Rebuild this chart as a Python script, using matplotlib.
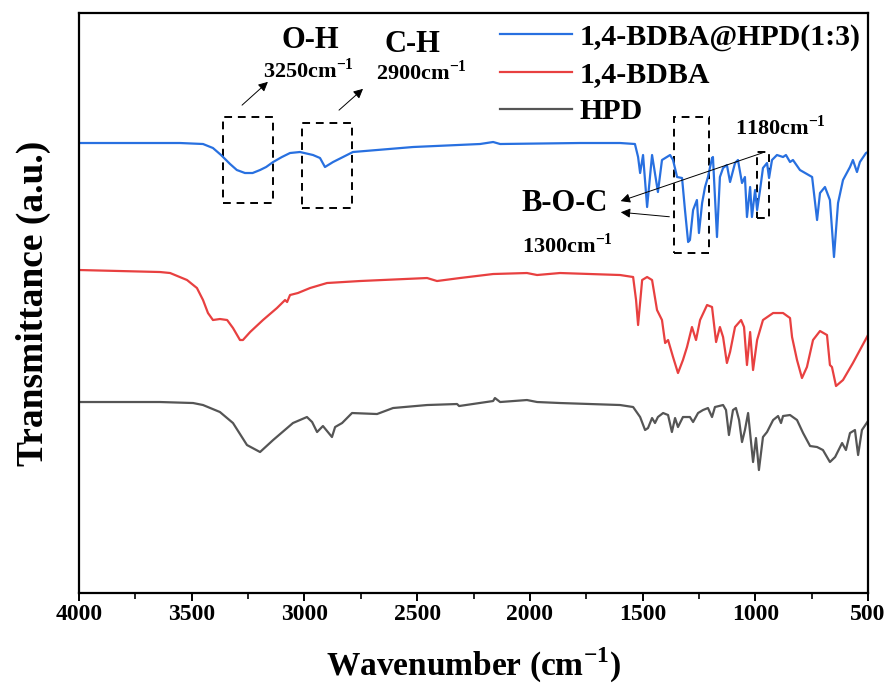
import matplotlib
matplotlib.use("Agg")
import matplotlib.pyplot as plt
from matplotlib.patches import Rectangle
from matplotlib.ticker import MultipleLocator

plt.rcParams["font.family"] = ["Liberation Serif", "DejaVu Serif"]
plt.rcParams["font.weight"] = "bold"
plt.rcParams["mathtext.fontset"] = "custom"
plt.rcParams["mathtext.rm"] = "Liberation Serif:bold"
plt.rcParams["mathtext.bf"] = "Liberation Serif:bold"

# FTIR spectra (wavenumber in cm-1, transmittance in a.u.)
hpd_mix_wn = [4000, 3552, 3450, 3406, 3370, 3330, 3300, 3264, 3230, 3197, 3170, 3139,
              3100, 3064, 3020, 2962, 2931, 2909, 2873, 2829, 2785, 2518, 2221, 2163,
              2132, 1778, 1600, 1534, 1520, 1511, 1498, 1480, 1458, 1432, 1414, 1378,
              1365, 1347, 1325, 1312, 1298, 1290, 1276, 1259, 1250, 1236, 1223, 1210,
              1192, 1188, 1170, 1157, 1143, 1126, 1112, 1090, 1077, 1059, 1046, 1037,
              1023, 1015, 1001, 992, 979, 966, 948, 939, 926, 904, 877, 864, 846, 833,
              802, 748, 726, 713, 691, 669, 651, 633, 611, 580, 567, 549, 536, 509, 500]
hpd_mix_t = [45.0, 45.0, 44.9, 44.5, 43.8, 42.9, 42.3, 42.0, 42.0, 42.3, 42.6, 43.1,
             43.6, 44.0, 44.1, 43.8, 43.5, 42.6, 43.1, 43.6, 44.1, 44.6, 44.9, 45.1,
             44.9, 45.0, 45.0, 44.9, 43.6, 42.0, 43.8, 38.6, 43.8, 40.1, 43.3, 43.8,
             43.3, 41.6, 41.5, 38.3, 35.1, 35.3, 38.3, 39.3, 36.0, 39.0, 40.6, 41.6,
             43.5, 43.6, 35.6, 41.6, 42.5, 42.8, 41.1, 43.0, 43.3, 41.0, 41.6, 37.6,
             40.6, 37.6, 40.3, 38.3, 40.3, 42.5, 43.0, 41.5, 43.3, 43.8, 43.6, 43.8,
             43.1, 43.3, 42.3, 41.6, 37.3, 40.0, 40.6, 39.3, 33.6, 39.0, 41.3, 42.6,
             43.3, 42.1, 43.1, 44.0, 44.1]

bdba_wn = [4000, 3641, 3596, 3521, 3477, 3450, 3428, 3406, 3375, 3343, 3317, 3286,
           3273, 3241, 3184, 3122, 3086, 3077, 3064, 3029, 2975, 2900, 2753, 2456,
           2412, 2310, 2163, 2013, 1968, 1866, 1600, 1542, 1529, 1520, 1502, 1480,
           1458, 1436, 1414, 1400, 1387, 1365, 1343, 1321, 1303, 1281, 1263, 1245,
           1214, 1192, 1174, 1157, 1143, 1126, 1112, 1090, 1063, 1050, 1037, 1023,
           1010, 992, 966, 921, 877, 846, 837, 815, 793, 771, 744, 713, 682, 669,
           660, 642, 611, 567, 500]
bdba_t = [32.3, 32.1, 32.0, 31.3, 30.5, 29.3, 28.0, 27.3, 27.4, 27.3, 26.5, 25.3,
          25.3, 26.1, 27.3, 28.5, 29.3, 29.1, 29.8, 30.0, 30.5, 31.0, 31.2, 31.5,
          31.2, 31.5, 31.9, 32.0, 31.8, 32.0, 31.8, 31.6, 29.3, 26.8, 31.3, 31.6,
          31.3, 28.3, 27.3, 25.0, 25.3, 23.6, 22.0, 23.3, 24.6, 26.6, 25.3, 27.3,
          28.8, 28.6, 25.1, 26.6, 25.6, 23.0, 24.1, 26.6, 27.3, 26.6, 22.8, 26.1,
          22.3, 25.3, 27.3, 28.0, 28.0, 27.5, 25.6, 23.3, 21.5, 22.6, 25.3, 26.2,
          25.8, 22.8, 22.6, 20.7, 21.3, 23.0, 25.8]

hpd_wn = [4000, 3641, 3494, 3450, 3375, 3317, 3255, 3197, 3139, 3051, 2989, 2966,
          2944, 2918, 2878, 2864, 2833, 2789, 2678, 2607, 2456, 2323, 2314, 2163,
          2155, 2132, 2013, 1968, 1866, 1600, 1542, 1511, 1489, 1476, 1458, 1445,
          1432, 1409, 1387, 1370, 1356, 1343, 1321, 1290, 1276, 1254, 1232, 1210,
          1192, 1179, 1143, 1130, 1117, 1099, 1086, 1072, 1059, 1046, 1032, 1023,
          1010, 997, 984, 966, 948, 921, 899, 886, 877, 846, 815, 788, 757, 726,
          700, 669, 646, 615, 598, 580, 558, 544, 527, 500]
hpd_t = [19.1, 19.1, 19.0, 18.8, 18.1, 17.0, 14.8, 14.1, 15.3, 17.0, 17.6, 17.1,
         16.1, 16.7, 15.6, 16.6, 17.0, 18.0, 17.9, 18.5, 18.8, 18.9, 18.7, 19.2,
         19.5, 19.1, 19.3, 19.1, 19.0, 18.8, 18.6, 17.6, 16.3, 16.5, 17.5, 17.0,
         17.6, 18.0, 17.8, 16.1, 17.5, 16.6, 17.6, 17.6, 17.1, 18.0, 18.3, 18.5,
         17.6, 18.6, 18.8, 18.3, 15.8, 18.3, 18.5, 17.3, 15.1, 16.3, 18.0, 16.0,
         13.1, 15.5, 12.3, 15.6, 16.1, 17.3, 17.7, 17.0, 17.7, 17.8, 17.3, 16.0,
         14.7, 14.6, 14.3, 13.1, 13.6, 15.0, 14.3, 16.0, 16.3, 13.8, 16.3, 17.2]

labels = ["1,4-BDBA@HPD(1:3)", "1,4-BDBA", "HPD"]
colors = ["#2870e0", "#e84040", "#555555"]

# dashed boxes around the bands: (wn_left, wn_right, t_bottom, t_top)
boxes = [(3361, 3139, 39.0, 47.6),
         (3011, 2789, 38.5, 47.0),
         (1361, 1205, 34.0, 47.6),
         (992, 939, 37.5, 44.1)]


def main() -> None:
    fig = plt.figure(figsize=(8.88, 6.99), dpi=100)
    ax = fig.add_axes([0.089, 0.1516, 0.8885, 0.8298])

    series = [(hpd_mix_wn, hpd_mix_t), (bdba_wn, bdba_t), (hpd_wn, hpd_t)]
    for (wn, t), label, color in zip(series, labels, colors):
        ax.plot(wn, t, color=color, lw=1.6, label=label)

    for x0, x1, y0, y1 in boxes:
        ax.add_patch(Rectangle((x0, y0), x1 - x0, y1 - y0, fill=False,
                               ls=(0, (4, 3)), lw=1.4, ec="black"))

    arrow = dict(arrowstyle="-|>", color="black", lw=0.7, mutation_scale=14)
    ax.annotate("", xy=(3153, 51.3), xytext=(3286, 48.6), arrowprops=arrow)
    ax.annotate("", xy=(2731, 50.6), xytext=(2856, 48.1), arrowprops=arrow)
    ax.annotate("", xy=(1609, 39.1), xytext=(957, 44.1), arrowprops=arrow)
    ax.annotate("", xy=(1609, 38.1), xytext=(1369, 37.6), arrowprops=arrow)

    tk = dict(ha="center", va="center", fontweight="bold")
    ax.text(2975, 55.3, "O-H", fontsize=22, **tk)
    ax.text(2980, 52.3, r"3250cm$^{-1}$", fontsize=16, **tk)
    ax.text(2523, 54.9, "C-H", fontsize=22, **tk)
    ax.text(2483, 52.1, r"2900cm$^{-1}$", fontsize=16, **tk)
    ax.text(890, 46.6, r"1180cm$^{-1}$", fontsize=16, **tk)
    ax.text(1844, 39.0, "B-O-C", fontsize=22, **tk)
    ax.text(1835, 34.8, r"1300cm$^{-1}$", fontsize=16, **tk)

    ax.set_xlim(4000, 500)
    ax.set_ylim(0, 58)
    ax.xaxis.set_major_locator(MultipleLocator(500))
    ax.xaxis.set_minor_locator(MultipleLocator(250))
    ax.tick_params(axis="x", which="major", length=6, width=1.4, labelsize=17, pad=2)
    ax.tick_params(axis="x", which="minor", length=4, width=1.2)
    ax.set_yticks([])
    for sp in ax.spines.values():
        sp.set_linewidth(1.6)

    ax.set_xlabel(r"Wavenumber (cm$^{-1}$)", fontsize=24, fontweight="bold", labelpad=15)
    ax.set_ylabel("Transmittance (a.u.)", fontsize=27, fontweight="bold", labelpad=20)

    ax.legend(loc="upper left", bbox_to_anchor=(0.5, 1.028), frameon=False,
              handlelength=2.4, handletextpad=0.25, labelspacing=0.34,
              prop={"weight": "bold", "size": 21.5})

    fig.savefig("out.png", dpi=100)
    plt.close(fig)


if __name__ == "__main__":
    main()
